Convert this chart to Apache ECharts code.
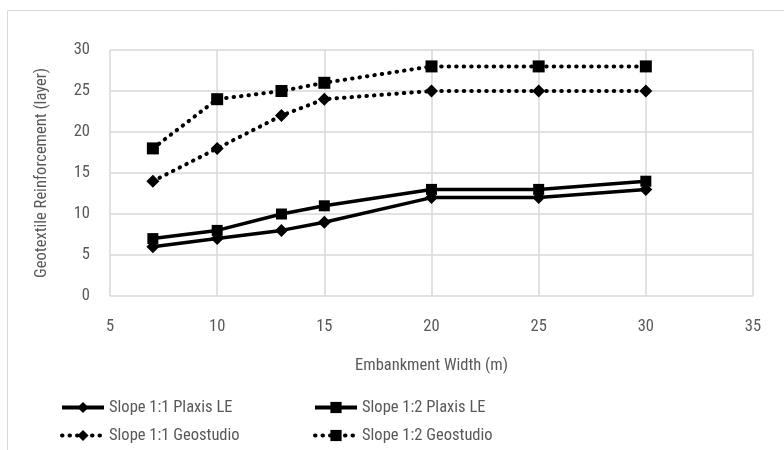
<!DOCTYPE html>
<html><head><meta charset="utf-8">
<script src="https://cdn.jsdelivr.net/npm/echarts@6/dist/echarts.min.js"></script>
<style>html,body{margin:0;padding:0;background:#fff}#c{width:784px;height:450px}</style>
</head><body><div id="c"></div>
<script>
const widths = [7, 10, 13, 15, 20, 25, 30];
const slope11Plaxis = [6, 7, 8, 9, 12, 12, 13];
const slope12Plaxis = [7, 8, 10, 11, 13, 13, 14];
const slope11Geo = [14, 18, 22, 24, 25, 25, 25];
const slope12Geo = [18, 24, 25, 26, 28, 28, 28];
const names = ['Slope 1:1 Plaxis LE', 'Slope 1:2 Plaxis LE', 'Slope 1:1 Geostudio', 'Slope 1:2 Geostudio'];

const font = "'Roboto Condensed', Roboto, sans-serif";
const fs = 16.5;
const pair = (ys) => widths.map((x, i) => [x, ys[i]]);
const solid = { color: '#000', width: 3.5 };
const dotted = { color: '#000', width: 4, type: [0.5, 7], cap: 'round' };

const chart = echarts.init(document.getElementById('c'), null, { renderer: 'canvas' });
chart.setOption({
  animation: false,
  backgroundColor: '#fff',
  graphic: [{ type: 'rect', shape: { x: 7.5, y: 10.5, width: 800, height: 460 }, style: { fill: 'none', stroke: '#d9d9d9', lineWidth: 1 } }],
  grid: { left: 110, right: 31, top: 50, bottom: 154 },
  xAxis: {
    type: 'value', min: 5, max: 35, interval: 5,
    name: 'Embankment Width (m)', nameLocation: 'middle', nameGap: 61,
    nameTextStyle: { color: '#595959', fontSize: fs, fontFamily: font },
    axisLine: { show: false }, axisTick: { show: false },
    axisLabel: { color: '#595959', fontSize: fs, fontFamily: font, margin: 22 },
    splitLine: { show: true, lineStyle: { color: '#d9d9d9', width: 1.5 } }
  },
  yAxis: {
    type: 'value', min: 0, max: 30, interval: 5,
    name: 'Geotextile Reinforcement (layer)', nameLocation: 'middle', nameGap: 60,
    nameTextStyle: { color: '#595959', fontSize: fs, fontFamily: font },
    axisLine: { show: false }, axisTick: { show: false },
    axisLabel: { color: '#595959', fontSize: fs, fontFamily: font, margin: 20 },
    splitLine: { show: true, lineStyle: { color: '#d9d9d9', width: 1.5 } }
  },
  legend: [
    { left: 60, top: 399, padding: 0, orient: 'vertical', itemGap: 11, itemWidth: 42, itemHeight: 14,
      data: [names[0], names[2]], lineStyle: { width: 4 },
      textStyle: { color: '#595959', fontSize: fs, fontFamily: font } },
    { left: 313, top: 399, padding: 0, orient: 'vertical', itemGap: 11, itemWidth: 42, itemHeight: 14,
      data: [names[1], names[3]], lineStyle: { width: 4 },
      textStyle: { color: '#595959', fontSize: fs, fontFamily: font } }
  ],
  series: [
    { name: names[0], type: 'line', data: pair(slope11Plaxis), symbol: 'diamond', symbolSize: 13,
      lineStyle: solid, itemStyle: { color: '#000' }, z: 3 },
    { name: names[1], type: 'line', data: pair(slope12Plaxis), symbol: 'rect', symbolSize: 11,
      lineStyle: solid, itemStyle: { color: '#000' }, z: 3 },
    { name: names[2], type: 'line', data: pair(slope11Geo), symbol: 'diamond', symbolSize: 13,
      lineStyle: dotted, itemStyle: { color: '#000' }, z: 3 },
    { name: names[3], type: 'line', data: pair(slope12Geo), symbol: 'rect', symbolSize: 12,
      lineStyle: dotted, itemStyle: { color: '#000' }, z: 3 }
  ]
});
</script></body></html>
